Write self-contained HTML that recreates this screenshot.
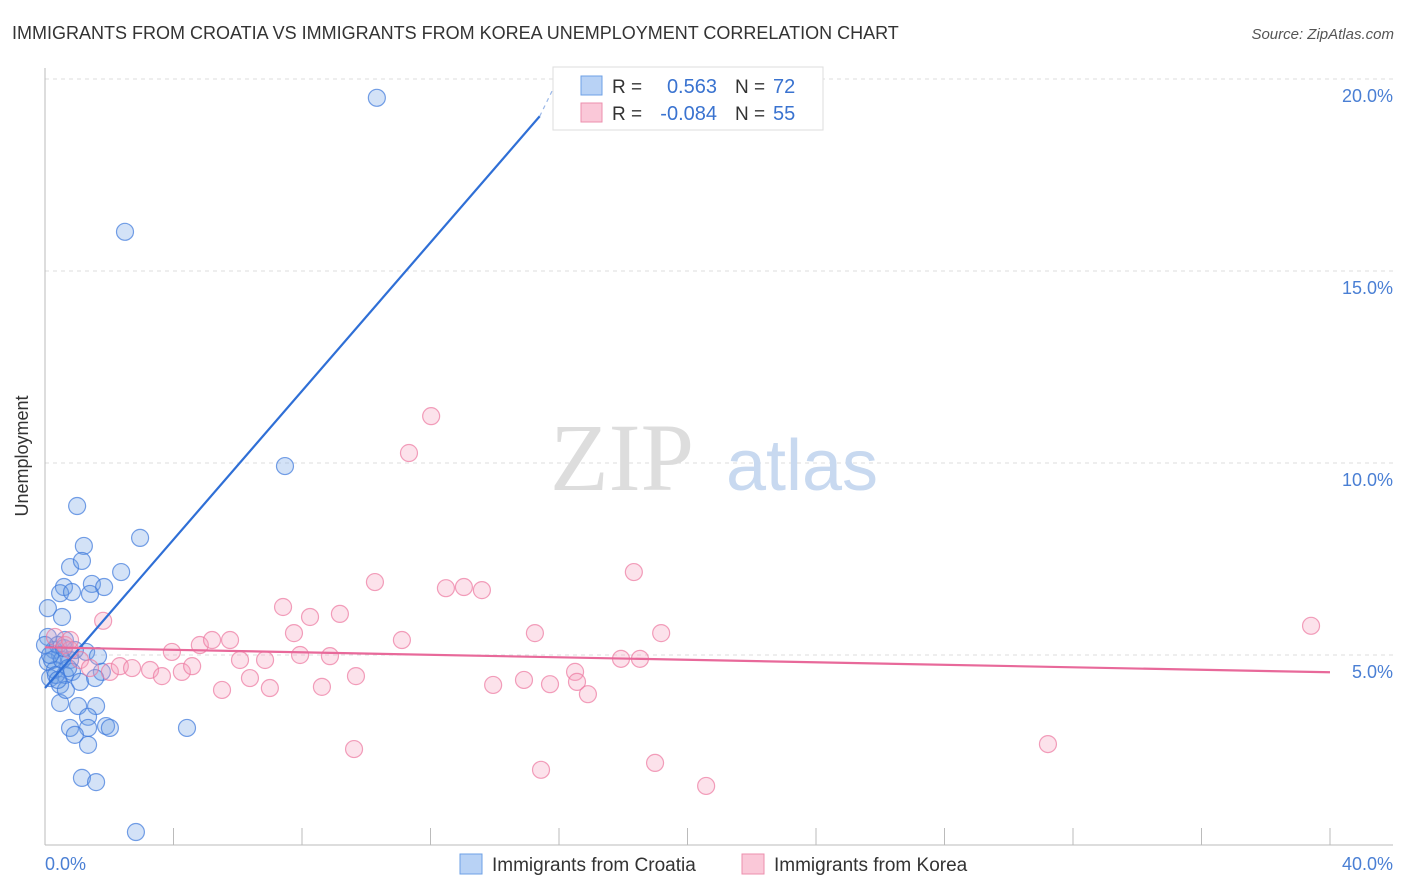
<!DOCTYPE html>
<html><head><meta charset="utf-8"><style>
body{margin:0;background:#fff;font-family:"Liberation Sans",sans-serif;}
svg{display:block}
</style></head><body>
<svg width="1406" height="892" viewBox="0 0 1406 892">
<text x="12" y="39" font-size="18" fill="#333">IMMIGRANTS FROM CROATIA VS IMMIGRANTS FROM KOREA UNEMPLOYMENT CORRELATION CHART</text>
<text x="1394" y="39" font-size="15" fill="#555" font-style="italic" text-anchor="end">Source: ZipAtlas.com</text>
<g id="grid"></g>
<line x1="45" y1="68" x2="45" y2="845" stroke="#bbb"/>
<line x1="45" y1="845" x2="1393" y2="845" stroke="#bbb"/>
<g id="xt"></g>
<text x="28" y="456" font-size="18" fill="#333" text-anchor="middle" transform="rotate(-90 28 456)">Unemployment</text>
<text x="45" y="870" font-size="18" fill="#4a7fd4">0.0%</text>
<text x="1393" y="870" font-size="18" fill="#4a7fd4" text-anchor="end">40.0%</text>
<g><text x="622" y="490" font-size="96" fill="#ddd" font-family="Liberation Serif,serif" text-anchor="middle">ZIP</text><text x="802" y="490" font-size="72" fill="#c8d9f0" text-anchor="middle">atlas</text></g>
<g id="pts"></g>
<g id="lines"></g>
<g>
<rect x="553" y="67" width="270" height="63" fill="#fff" stroke="#ddd"/>
<rect x="581" y="76" width="21" height="19" fill="#b8d2f5" stroke="#6ea0e6"/>
<rect x="581" y="103" width="21" height="19" fill="#fac8d8" stroke="#ec8fae"/>
<text x="612" y="93" font-size="19" fill="#333">R = </text><text x="717" y="93" font-size="20" fill="#3a73d0" text-anchor="end">0.563</text>
<text x="735" y="93" font-size="19" fill="#333">N = </text><text x="773" y="93" font-size="20" fill="#3a73d0">72</text>
<text x="612" y="120" font-size="19" fill="#333">R = </text><text x="717" y="120" font-size="20" fill="#3a73d0" text-anchor="end">-0.084</text>
<text x="735" y="120" font-size="19" fill="#333">N = </text><text x="773" y="120" font-size="20" fill="#3a73d0">55</text>
</g>
<g>
<rect x="460" y="854" width="22" height="20" fill="#b8d2f5" stroke="#6ea0e6"/>
<text x="492" y="871" font-size="19" fill="#333">Immigrants from Croatia</text>
<rect x="742" y="854" width="22" height="20" fill="#fac8d8" stroke="#ec8fae"/>
<text x="774" y="871" font-size="19" fill="#333">Immigrants from Korea</text>
</g>
</svg>
<script>
const yTicks=[5,10,15,20];
const yTickLabels=["5.0%","10.0%","15.0%","20.0%"];
const croatiaPx=[[377,98],[125,232],[285,466],[77,506],[140,538],[84,546],[121,572],[70,567],[82,561],[64,587],[92,584],[104,587],[60,593],[72,592],[90,594],[48,608],[62,617],[48,637],[65,640],[86,652],[98,656],[102,672],[60,703],[78,706],[96,706],[88,717],[70,728],[88,728],[75,735],[106,726],[110,728],[88,745],[187,728],[82,778],[96,782],[136,832],[54,650],[60,655],[70,660],[48,662],[55,670],[65,675],[72,672],[50,678],[60,685],[66,690],[80,682],[95,678],[52,660],[58,645],[45,645],[75,650],[62,660],[68,668],[56,675],[50,655],[58,680],[64,648]];
const koreaPx=[[103,621],[55,637],[65,645],[70,650],[80,660],[90,668],[110,672],[120,666],[132,668],[150,670],[162,676],[172,652],[182,672],[192,666],[200,645],[212,640],[222,690],[230,640],[240,660],[250,678],[265,660],[270,688],[283,607],[294,633],[300,655],[310,617],[322,687],[330,656],[340,614],[356,676],[354,749],[375,582],[402,640],[409,453],[431,416],[446,588],[464,587],[482,590],[493,685],[524,680],[535,633],[541,770],[550,684],[575,672],[577,682],[588,694],[621,659],[634,572],[640,659],[655,763],[661,633],[706,786],[1048,744],[1311,626],[70,640]];
// convert sampled pixel reads to data values (x %, y %)
const croatiaX=croatiaPx.map(p=>+((p[0]-45)/1285*40).toFixed(2));
const croatiaY=croatiaPx.map(p=>+((847-p[1])/38.4).toFixed(2));
const koreaX=koreaPx.map(p=>+((p[0]-45)/1285*40).toFixed(2));
const koreaY=koreaPx.map(p=>+((847-p[1])/38.4).toFixed(2));
const croatiaTrend=[[0,4.14],[15.4,19.03]];
const koreaTrend=[[0,5.2],[40,4.55]];
const sx=v=>45+v/40*1285, sy=v=>847-v*38.4;
const NS="http://www.w3.org/2000/svg";
function mk(t,a,p){const e=document.createElementNS(NS,t);for(const k in a)e.setAttribute(k,a[k]);p.appendChild(e);return e;}
const g=document.getElementById('grid');
yTicks.forEach((v,i)=>{
  const l=mk('line',{x1:45,x2:1393,y1:sy(v),y2:sy(v),stroke:'#ddd','stroke-dasharray':'4,4'},g);
  
  
  const t=mk('text',{x:1393,y:sy(v)+23,'font-size':18,fill:'#4a7fd4','text-anchor':'end'},g);
  t.textContent=yTickLabels[i];
  
  
});
const xt=document.getElementById('xt');
for(let i=0;i<=10;i++){
  const l=mk('line',{x1:sx(i*4),x2:sx(i*4),y1:828,y2:845,stroke:'#bbb'},xt);
  
  
}
const pts=document.getElementById('pts');
croatiaX.forEach((x,i)=>{
  const c=mk('circle',{cx:sx(x),cy:sy(croatiaY[i]),r:8.5,fill:'rgba(110,160,230,0.3)',stroke:'rgba(60,120,220,0.7)','stroke-width':1.2},pts);
  
  
});
koreaX.forEach((x,i)=>{
  const c=mk('circle',{cx:sx(x),cy:sy(koreaY[i]),r:8.5,fill:'rgba(245,160,190,0.3)',stroke:'rgba(236,120,160,0.7)','stroke-width':1.2},pts);
  
  
});
const ln=document.getElementById('lines');
let l1=mk('line',{x1:sx(croatiaTrend[0][0]),y1:sy(croatiaTrend[0][1]),x2:sx(croatiaTrend[1][0]),y2:sy(croatiaTrend[1][1]),stroke:'#2f6fd6','stroke-width':2.2},ln);


let l1d=mk('line',{x1:sx(croatiaTrend[1][0]),y1:sy(croatiaTrend[1][1]),x2:555,y2:85,stroke:'#9bb8e8','stroke-width':1.2,'stroke-dasharray':'4,4'},ln);


let l2=mk('line',{x1:sx(koreaTrend[0][0]),y1:sy(koreaTrend[0][1]),x2:sx(koreaTrend[1][0]),y2:sy(koreaTrend[1][1]),stroke:'#e8699a','stroke-width':2.2},ln);


</script>
</body></html>
